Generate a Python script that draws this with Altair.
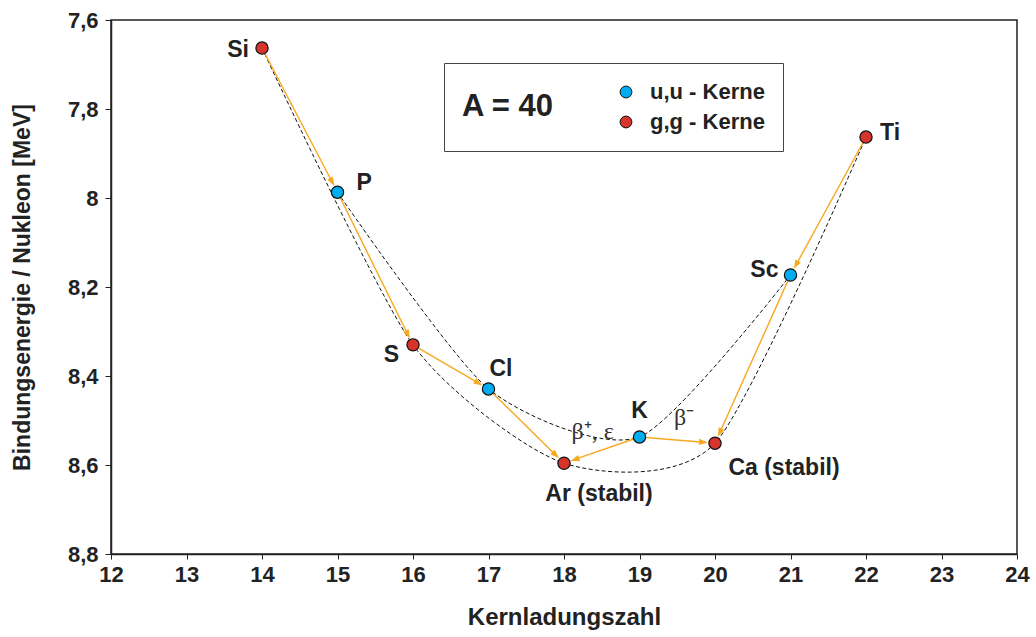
import math
import altair as alt
import pandas as pd

# ---------------- data ----------------
names = ["Si", "P", "S", "Cl", "Ar", "K", "Ca", "Sc", "Ti"]
z_values = [14, 15, 16, 17, 18, 19, 20, 21, 22]
binding = [7.663, 7.987, 8.330, 8.429, 8.596, 8.537, 8.551, 8.173, 7.863]
kinds = ["g,g - Kerne", "u,u - Kerne", "g,g - Kerne", "u,u - Kerne", "g,g - Kerne",
         "u,u - Kerne", "g,g - Kerne", "u,u - Kerne", "g,g - Kerne"]
point_labels = ["Si", "P", "S", "Cl", "Ar (stabil)", "K", "Ca (stabil)", "Sc", "Ti"]

arrow_from = ["Si", "P", "S", "Cl", "K", "K", "Ti", "Sc"]
arrow_to = ["P", "S", "Cl", "Ar", "Ar", "Ca", "Sc", "Ca"]

decay_text = ["β⁺, ε", "β⁻"]
decay_z = [18.38, 19.59]
decay_be = [8.526, 8.494]

x_ticks = list(range(12, 25))
y_ticks = [7.6, 7.8, 8.0, 8.2, 8.4, 8.6, 8.8]
legend_order = ["u,u - Kerne", "g,g - Kerne"]

# ---------------- layout / style ----------------
W, H = 906, 534
X_DOM = [12, 24]
Y_DOM = [7.6, 8.8]
BLUE, RED, ORANGE = "#00AEEF", "#D7352B", "#F6A821"
FONT = "Liberation Sans"

label_style = {  # name: (dx, dy, align)
    "Si": (-13, 2, "right"),
    "P": (19, -9, "left"),
    "S": (-14, 10, "right"),
    "Cl": (1, -20, "left"),
    "Ar": (35, 31, "center"),
    "K": (0, -26, "center"),
    "Ca": (69, 25, "center"),
    "Sc": (-12, -5, "right"),
    "Ti": (14, -4, "left"),
}

pts = pd.DataFrame({"name": names, "z": z_values, "be": binding,
                    "kind": kinds, "label": point_labels})

# arrows computed from the point data (shortened to circle edge)
kx = W / (X_DOM[1] - X_DOM[0])
ky = H / (Y_DOM[1] - Y_DOM[0])
pos = {n: (z, b) for n, z, b in zip(names, z_values, binding)}
R_PX, HEAD = 7.0, 9.0
rows = []
for a, b in zip(arrow_from, arrow_to):
    x1, y1 = pos[a]
    x2, y2 = pos[b]
    sdx = (x2 - x1) * kx
    sdy = (y2 - y1) * ky  # screen y grows downwards (reversed axis)
    L = math.hypot(sdx, sdy)
    ux, uy = sdx / L, sdy / L
    back = R_PX + HEAD / 2
    hx = x2 - ux * back / kx
    hy = y2 - uy * back / ky
    ang = (math.degrees(math.atan2(ux, -uy)) + 360) % 360
    rows.append({"x1": x1, "y1": y1, "hx": hx, "hy": hy, "angle": ang})
arrows = pd.DataFrame(rows)

curves = pd.DataFrame({"z": z_values, "be": binding,
                       "grp": ["gg" if k.startswith("g") else "uu" for k in kinds]})

decay = pd.DataFrame({"t": decay_text, "z": decay_z, "be": decay_be})

xs = alt.Scale(domain=X_DOM, nice=False, zero=False)
ys = alt.Scale(domain=Y_DOM, nice=False, zero=False, reverse=True)

x_enc = alt.X("z:Q", scale=xs, axis=alt.Axis(
    title="Kernladungszahl", values=x_ticks, format="d", grid=False, tickSize=5,
    labelFlush=False, labelOverlap=False,
    labelPadding=5, labelFontSize=22, labelFontWeight="bold", titleFontSize=24,
    titleFontWeight="bold", titlePadding=20, domainColor="#222", tickColor="#222",
    domainWidth=1.5, labelColor="#222", titleColor="#222", labelFont=FONT, titleFont=FONT))
y_enc = alt.Y("be:Q", scale=ys, axis=alt.Axis(
    title="Bindungsenergie / Nukleon [MeV]", values=y_ticks, grid=False, tickSize=6,
    labelFlush=False, labelOverlap=False,
    labelPadding=7, format="~g", labelExpr="replace(datum.label, '.', ',')",
    labelFontSize=22, labelFontWeight="bold", titleFontSize=23, titleFontWeight="bold",
    titlePadding=33, domainColor="#222", tickColor="#222", domainWidth=1.5,
    labelColor="#222", titleColor="#222", labelFont=FONT, titleFont=FONT))

base = alt.Chart(pts)

curve_layer = alt.Chart(curves).mark_line(
    interpolate="cardinal", tension=0.3, color="#111", strokeWidth=1, strokeDash=[4, 2.5]
).encode(x=alt.X("z:Q", scale=xs), y=alt.Y("be:Q", scale=ys), detail="grp:N")

arrow_lines = alt.Chart(arrows).mark_rule(color=ORANGE, strokeWidth=1.4).encode(
    x=alt.X("x1:Q", scale=xs), y=alt.Y("y1:Q", scale=ys), x2="hx:Q", y2="hy:Q")

arrow_heads = alt.Chart(arrows).mark_point(
    shape="M0,-1L0.7,1L-0.7,1Z", filled=True, size=81, color=ORANGE, opacity=1,
    strokeWidth=0
).encode(x=alt.X("hx:Q", scale=xs), y=alt.Y("hy:Q", scale=ys),
         angle=alt.Angle("angle:Q", scale=None))

point_layer = base.mark_point(filled=True, size=150, stroke="#111", strokeWidth=1.2,
                              opacity=1).encode(
    x=x_enc, y=y_enc,
    fill=alt.Fill("kind:N", scale=alt.Scale(domain=legend_order, range=[BLUE, RED]),
                  legend=alt.Legend(
                      title="A = 40", orient="none", legendX=333, legendY=43,
                      titleOrient="left", titleAnchor="middle", titleBaseline="middle",
                      titleFontSize=31, titleFontWeight="bold", titleFont=FONT,
                      titleColor="#222", titlePadding=60, padding=18,
                      strokeColor="#444", fillColor="white",
                      symbolType="circle", symbolSize=140, symbolStrokeColor="#111",
                      symbolStrokeWidth=1, labelFontSize=22, labelFontWeight="bold",
                      labelFont=FONT, labelColor="#222", labelOffset=13, rowPadding=8)))

text_layers = []
for n, (dx, dy, al) in label_style.items():
    text_layers.append(
        base.transform_filter(alt.datum.name == n).mark_text(
            dx=dx, dy=dy, align=al, baseline="middle", fontSize=23,
            fontWeight="bold", font=FONT, color="#222"
        ).encode(x=alt.X("z:Q", scale=xs), y=alt.Y("be:Q", scale=ys), text="label:N"))

decay_layer = alt.Chart(decay).mark_text(
    font="Liberation Serif", fontSize=24, color="#333", baseline="middle", align="center"
).encode(x=alt.X("z:Q", scale=xs), y=alt.Y("be:Q", scale=ys), text="t:N")

chart = alt.layer(
    curve_layer, arrow_lines, arrow_heads, point_layer, decay_layer, *text_layers
).properties(
    width=W, height=H,
    padding={"left": 111, "top": 20, "right": 19, "bottom": 83},
    autosize=alt.AutoSizeParams(type="none"),
    background="white",
).configure_view(stroke="#222", strokeWidth=1.5)

chart.save("out.html", embed_options={"renderer": "svg", "actions": False})
